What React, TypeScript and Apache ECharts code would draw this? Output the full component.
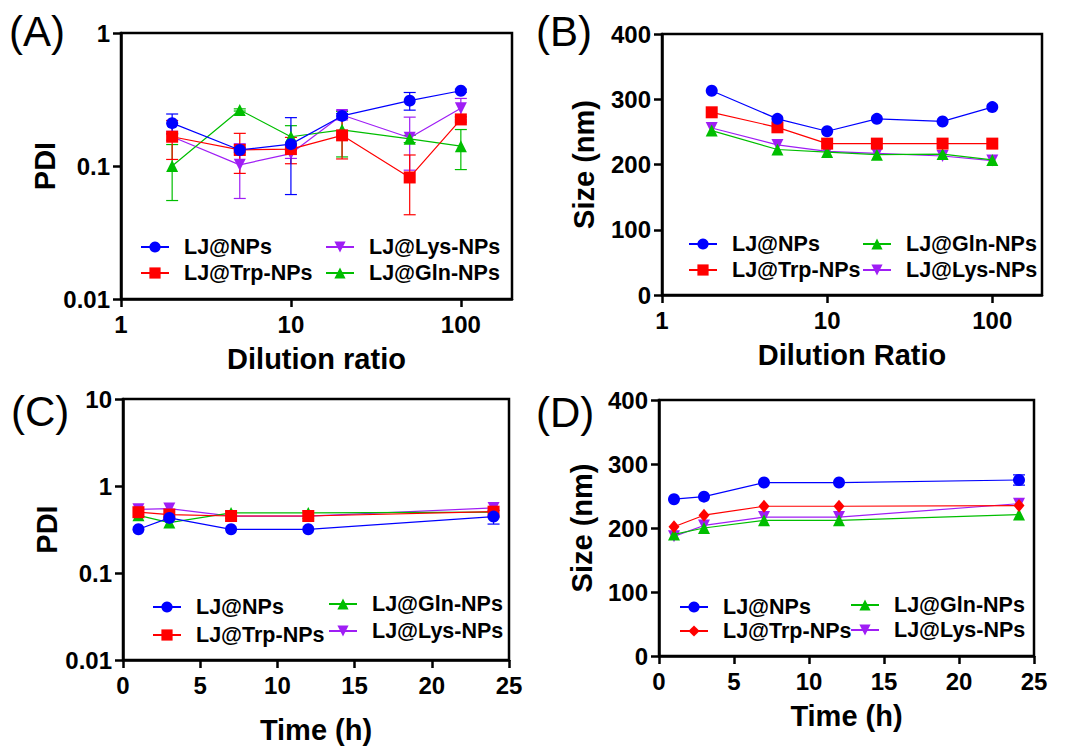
import React, { useEffect, useRef } from 'react';
import * as echarts from 'echarts';

const FONT = '"Liberation Sans", Arial, sans-serif';

const dilution = [2, 5, 10, 20, 50, 100];
const timeH = [1, 3, 7, 12, 24];
const seriesNames = ['LJ@NPs', 'LJ@Trp-NPs', 'LJ@Gln-NPs', 'LJ@Lys-NPs'];

// Panel A: PDI vs dilution ratio (mean, SD)
const aNPs = [0.21, 0.132, 0.146, 0.238, 0.31, 0.368];
const aNPsErr = [0.036, 0.005, 0.085, 0.01, 0.047, 0.01];
const aTrp = [0.166, 0.132, 0.134, 0.17, 0.082, 0.224];
const aTrpErr = [0.054, 0.044, 0.03, 0.057, 0.039, 0.01];
const aGln = [0.1, 0.264, 0.166, 0.187, 0.16, 0.141];
const aGlnErr = [0.045, 0.005, 0.035, 0.07, 0.01, 0.047];
const aLys = [0.166, 0.102, 0.124, 0.242, 0.163, 0.272];
const aLysErr = [0.01, 0.045, 0.01, 0.02, 0.07, 0.05];

// Panel B: size vs dilution ratio
const bNPs = [313, 270, 251, 270, 266, 288];
const bTrp = [280, 257, 232, 232, 232, 232];
const bGln = [252, 223, 219, 215, 216, 207];
const bLys = [256, 230, 220, 217, 213, 206];

// Panel C: PDI vs time
const cNPs = [0.318, 0.43, 0.318, 0.318, 0.445];
const cNPsErr = [0, 0, 0, 0, 0.08];
const cTrp = [0.5, 0.47, 0.452, 0.452, 0.507];
const cGln = [0.46, 0.38, 0.49, 0.49, 0.5];
const cLys = [0.54, 0.55, 0.45, 0.45, 0.56];

// Panel D: size vs time
const dNPs = [245, 249, 271, 271, 275];
const dNPsErr = [0, 0, 0, 0, 8];
const dTrp = [202, 220, 234, 234, 235];
const dGln = [190, 200, 212, 212, 221];
const dLys = [187, 204, 217, 217, 238];

const BLUE = '#0000FF';
const RED = '#FF0000';
const GREEN = '#00BE00';
const PURPLE = '#9F1EF5';

const styleOf: Record<string, { color: string; symbol: string; rotate: number; size: number }> = {
  'LJ@NPs': { color: BLUE, symbol: 'circle', rotate: 0, size: 12 },
  'LJ@Trp-NPs': { color: RED, symbol: 'rect', rotate: 0, size: 12 },
  'LJ@Gln-NPs': { color: GREEN, symbol: 'triangle', rotate: 0, size: 12 },
  'LJ@Lys-NPs': { color: PURPLE, symbol: 'triangle', rotate: 180, size: 12 },
};

function lineSeries(panel: string, idx: number, name: string, xs: number[], ys: number[], z: number, symbolOverride?: string, sizeOverride?: any) {
  const s = styleOf[name];
  return {
    type: 'line',
    name: panel + '|' + name,
    xAxisIndex: idx,
    yAxisIndex: idx,
    data: xs.map((x, i) => [x, ys[i]]),
    symbol: symbolOverride || s.symbol,
    symbolRotate: s.rotate,
    symbolSize: sizeOverride || s.size,
    showAllSymbol: true,
    lineStyle: { color: s.color, width: 1.2 },
    itemStyle: { color: s.color, borderWidth: 0 },
    z,
    silent: true,
  };
}

function errSeries(idx: number, xs: number[], ys: number[], errs: number[], color: string) {
  return {
    type: 'custom',
    xAxisIndex: idx,
    yAxisIndex: idx,
    data: xs.map((x, i) => [x, ys[i] - errs[i], ys[i] + errs[i], errs[i]]),
    encode: { x: 0, y: [1, 2] },
    silent: true,
    z: 1,
    renderItem: (params: any, api: any) => {
      if (!(api.value(3) > 0)) return { type: 'group', children: [] };
      const lo = api.coord([api.value(0), api.value(1)]);
      const hi = api.coord([api.value(0), api.value(2)]);
      const w = 6;
      const style = { stroke: color, lineWidth: 1.2, fill: 'none' };
      return {
        type: 'group',
        children: [
          { type: 'line', shape: { x1: lo[0], y1: lo[1], x2: hi[0], y2: hi[1] }, style },
          { type: 'line', shape: { x1: lo[0] - w, y1: lo[1], x2: lo[0] + w, y2: lo[1] }, style },
          { type: 'line', shape: { x1: hi[0] - w, y1: hi[1], x2: hi[0] + w, y2: hi[1] }, style },
        ],
      };
    },
  };
}

const axisCommon = {
  axisLine: { show: true, onZero: false, lineStyle: { color: '#000', width: 2.5 } },
  axisTick: { show: true, inside: false, length: 8, lineStyle: { color: '#000', width: 2.5 } },
  axisLabel: { color: '#000', fontSize: 24, fontWeight: 'bold', fontFamily: FONT, margin: 11 },
  splitLine: { show: false },
  minorTick: { show: false },
  nameLocation: 'middle',
  nameTextStyle: { color: '#000', fontSize: 29, fontWeight: 'bold', fontFamily: FONT },
};

const logFmt = (v: number) => {
  const r = +Number(v).toPrecision(3);
  if (r === 200) return '';
  return String(r);
};

function legendCol(left: number, top: number, gap: number, items: string[]) {
  return {
    orient: 'vertical',
    left,
    top,
    padding: 0,
    itemWidth: 28,
    itemHeight: 14,
    itemGap: gap,
    selectedMode: false,
    data: items,
    formatter: (n: string) => n.split('|')[1],
    textStyle: { color: '#000', fontSize: 21.5, fontWeight: 'bold', fontFamily: FONT, lineHeight: 20, padding: [0, 0, 0, 10] },
  };
}

function panelLabel(text: string, left: number, top: number) {
  return {
    type: 'text',
    left,
    top,
    style: { text, fontSize: 42, fontFamily: FONT, fill: '#000' },
  };
}

export default function App() {
  const ref = useRef<HTMLDivElement>(null);
  useEffect(() => {
    if (!ref.current) return;
    const chart = echarts.init(ref.current, undefined, { renderer: 'svg' });
    const gridBase = { show: true, borderColor: '#000', borderWidth: 2.5, backgroundColor: 'transparent', containLabel: false };
    const option: any = {
      animation: false,
      backgroundColor: '#fff',
      grid: [
        { ...gridBase, left: 121, top: 33, width: 391, height: 266 },
        { ...gridBase, left: 662, top: 34, width: 380, height: 261 },
        { ...gridBase, left: 123, top: 399, width: 386, height: 261 },
        { ...gridBase, left: 659, top: 400, width: 375, height: 256 },
      ],
      xAxis: [
        { ...axisCommon, gridIndex: 0, type: 'log', logBase: 10, min: 1, max: 200, name: 'Dilution ratio', nameGap: 45, axisLabel: { ...axisCommon.axisLabel, margin: 13, formatter: logFmt, showMaxLabel: false } },
        { ...axisCommon, gridIndex: 1, type: 'log', logBase: 10, min: 1, max: 200, name: 'Dilution Ratio', nameGap: 45, axisLabel: { ...axisCommon.axisLabel, margin: 13, formatter: logFmt, showMaxLabel: false } },
        { ...axisCommon, gridIndex: 2, type: 'value', min: 0, max: 25, interval: 5, name: 'Time (h)', nameGap: 55, axisLabel: { ...axisCommon.axisLabel, margin: 13 } },
        { ...axisCommon, gridIndex: 3, type: 'value', min: 0, max: 25, interval: 5, name: 'Time (h)', nameGap: 45, axisLabel: { ...axisCommon.axisLabel, margin: 13 } },
      ],
      yAxis: [
        { ...axisCommon, gridIndex: 0, type: 'log', logBase: 10, min: 0.01, max: 1, name: 'PDI', nameGap: 54, axisLabel: { ...axisCommon.axisLabel, formatter: logFmt } },
        { ...axisCommon, gridIndex: 1, type: 'value', min: 0, max: 400, interval: 100, name: 'Size (nm)', nameGap: 64 },
        { ...axisCommon, gridIndex: 2, type: 'log', logBase: 10, min: 0.01, max: 10, name: 'PDI', nameGap: 46, axisLabel: { ...axisCommon.axisLabel, formatter: logFmt } },
        { ...axisCommon, gridIndex: 3, type: 'value', min: 0, max: 400, interval: 100, name: 'Size (nm)', nameGap: 63 },
      ],
      legend: [
        legendCol(140, 236, 4, ['A|LJ@NPs', 'A|LJ@Trp-NPs']),
        legendCol(325, 236, 4, ['A|LJ@Lys-NPs', 'A|LJ@Gln-NPs']),
        legendCol(688, 233, 4, ['B|LJ@NPs', 'B|LJ@Trp-NPs']),
        legendCol(862, 233, 4, ['B|LJ@Gln-NPs', 'B|LJ@Lys-NPs']),
        legendCol(152, 596, 6, ['C|LJ@NPs', 'C|LJ@Trp-NPs']),
        legendCol(328, 593, 5, ['C|LJ@Gln-NPs', 'C|LJ@Lys-NPs']),
        legendCol(679, 596, 2, ['D|LJ@NPs', 'D|LJ@Trp-NPs']),
        legendCol(850, 594, 3, ['D|LJ@Gln-NPs', 'D|LJ@Lys-NPs']),
      ],
      graphic: [
        panelLabel('(A)', 9, 10),
        panelLabel('(B)', 536, 10),
        panelLabel('(C)', 11, 390),
        panelLabel('(D)', 536, 391),
      ],
      series: [
        errSeries(0, dilution, aLys, aLysErr, PURPLE),
        errSeries(0, dilution, aGln, aGlnErr, GREEN),
        errSeries(0, dilution, aTrp, aTrpErr, RED),
        errSeries(0, dilution, aNPs, aNPsErr, BLUE),
        lineSeries('A', 0, 'LJ@Lys-NPs', dilution, aLys, 2),
        lineSeries('A', 0, 'LJ@Gln-NPs', dilution, aGln, 3),
        lineSeries('A', 0, 'LJ@Trp-NPs', dilution, aTrp, 4),
        lineSeries('A', 0, 'LJ@NPs', dilution, aNPs, 5),

        lineSeries('B', 1, 'LJ@Lys-NPs', dilution, bLys, 2),
        lineSeries('B', 1, 'LJ@Gln-NPs', dilution, bGln, 3),
        lineSeries('B', 1, 'LJ@Trp-NPs', dilution, bTrp, 4),
        lineSeries('B', 1, 'LJ@NPs', dilution, bNPs, 5),

        errSeries(2, timeH, cNPs, cNPsErr, BLUE),
        lineSeries('C', 2, 'LJ@Lys-NPs', timeH, cLys, 2),
        lineSeries('C', 2, 'LJ@Gln-NPs', timeH, cGln, 3),
        lineSeries('C', 2, 'LJ@Trp-NPs', timeH, cTrp, 4),
        lineSeries('C', 2, 'LJ@NPs', timeH, cNPs, 5),

        errSeries(3, timeH, dNPs, dNPsErr, BLUE),
        lineSeries('D', 3, 'LJ@Lys-NPs', timeH, dLys, 2),
        lineSeries('D', 3, 'LJ@Gln-NPs', timeH, dGln, 3),
        lineSeries('D', 3, 'LJ@Trp-NPs', timeH, dTrp, 4, 'diamond', [11, 13]),
        lineSeries('D', 3, 'LJ@NPs', timeH, dNPs, 5),
      ],
    };
    chart.setOption(option);
    return () => chart.dispose();
  }, []);
  return <div ref={ref} style={{ position: 'absolute', left: 0, top: 0, width: 1067, height: 749, background: '#fff' }} />;
}
